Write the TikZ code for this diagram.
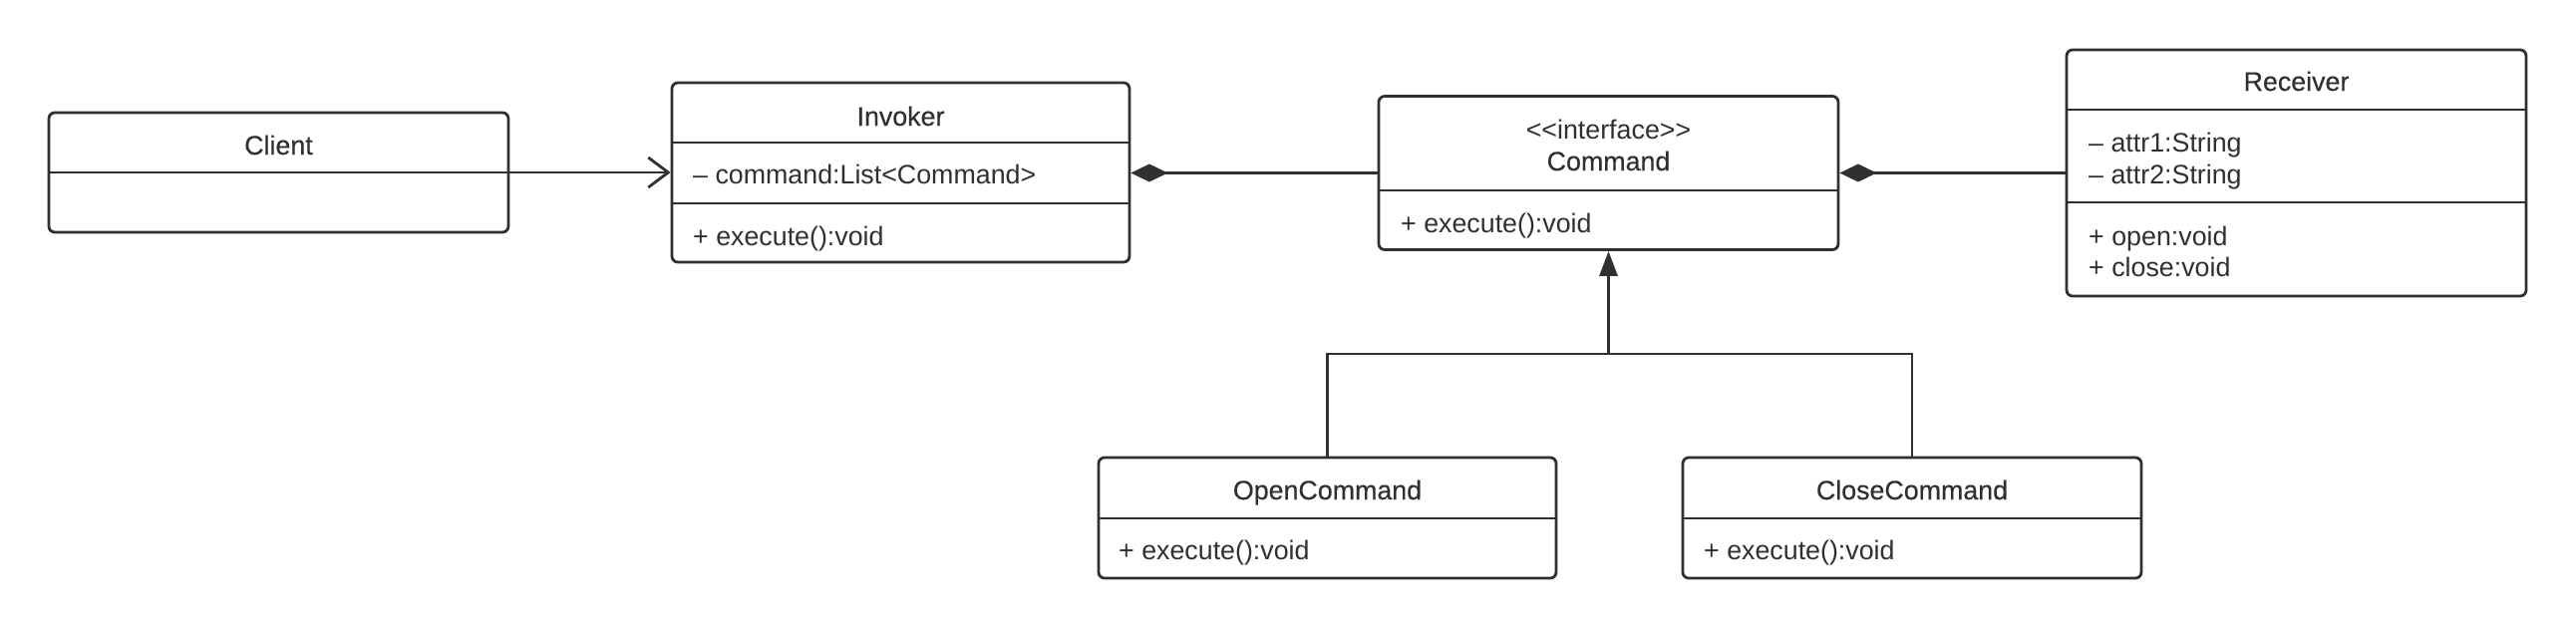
\documentclass[tikz,border=0pt]{standalone}
\usepackage{fontspec}
\setmainfont{Liberation Sans}
\newfontfamily\titlefont{Liberation Sans}[FakeBold=0.35]
\usetikzlibrary{arrows.meta}
\definecolor{ink}{HTML}{2E3033}
\begin{document}
\begin{tikzpicture}[x=1pt,y=-1pt,
  box/.style={draw=ink, line width=2.8pt, rounded corners=6pt, fill=white, inner sep=0pt},
  txt/.style={inner sep=0pt, text=ink, font=\fontsize{26.8}{31}\selectfont, anchor=base west},
  ttl/.style={txt, anchor=base, font=\titlefont\fontsize{26.8}{31}\selectfont},
  stereo/.style={txt, anchor=base},
  sep/.style={draw=ink, line width=2.8pt},
  conn/.style={draw=ink, line width=2.8pt}]
\useasboundingbox[fill=white] (0,0) rectangle (2584,630);

% boxes
\node[box, minimum width=461pt, minimum height=120pt] (client) at (279.5,173) {};
\node[box, minimum width=459pt, minimum height=180pt] (invoker) at (903.5,173) {};
\node[box, minimum width=461pt, minimum height=154pt] (command) at (1613.5,173.5) {};
\node[box, minimum width=461pt, minimum height=247pt] (receiver) at (2303.5,173.5) {};
\node[box, minimum width=459pt, minimum height=121pt] (opencmd) at (1331.5,519.5) {};
\node[box, minimum width=460pt, minimum height=121pt] (closecmd) at (1918,519.5) {};

% compartment separators
\draw[sep] (client.west |- 0,173) -- (client.east |- 0,173);
\draw[sep] (invoker.west |- 0,143) -- (invoker.east |- 0,143);
\draw[sep] (invoker.west |- 0,204) -- (invoker.east |- 0,204);
\draw[sep] (command.west |- 0,191) -- (command.east |- 0,191);
\draw[sep] (receiver.west |- 0,110) -- (receiver.east |- 0,110);
\draw[sep] (receiver.west |- 0,203) -- (receiver.east |- 0,203);
\draw[sep] (opencmd.west |- 0,520) -- (opencmd.east |- 0,520);
\draw[sep] (closecmd.west |- 0,520) -- (closecmd.east |- 0,520);

% texts
\node[ttl] (tclient) at (279.5,155) {Client};

\node[ttl] (tinvoker) at (903.5,126) {Invoker};
\node[txt] (ainvoker) at (695,184) {– command:List<Command>};
\node[txt] (minvoker) at (695,246) {+ execute():void};

\node[stereo] (sinterface) at (1613.5,139) {<\kern0pt<interface>\kern0pt>};
\node[ttl] (tcommand) at (1613.5,171) {Command};
\node[txt] (mcommand) at (1405,233) {+ execute():void};

\node[ttl] (treceiver) at (2303.5,91) {Receiver};
\node[txt] (areceiver1) at (2095,152) {– attr1:String};
\node[txt] (areceiver2) at (2095,184) {– attr2:String};
\node[txt] (mreceiver1) at (2095,246) {+ open:void};
\node[txt] (mreceiver2) at (2095,277) {+ close:void};

\node[ttl] (topencmd) at (1331.5,501) {OpenCommand};
\node[txt] (mopencmd) at (1122,561) {+ execute():void};

\node[ttl] (tclosecmd) at (1918,501) {CloseCommand};
\node[txt] (mclosecmd) at (1709,561) {+ execute():void};

% connectors
\draw[conn, -{Straight Barb[length=20pt,width=30pt]}] (client.east) -- (invoker.west);
\draw[conn, -{Diamond[length=37pt,width=18pt]}] (command.west) -- (invoker.east |- command.west);
\draw[conn, -{Diamond[length=37pt,width=18pt]}] (receiver.west) -- (command.east);

\coordinate (junc) at (1613.5,355);
\draw[conn] (opencmd.north) |- (junc) -| (closecmd.north);
\draw[conn, -{Triangle[length=25pt,width=18pt]}] (junc) -- (command.south);
\end{tikzpicture}
\end{document}
